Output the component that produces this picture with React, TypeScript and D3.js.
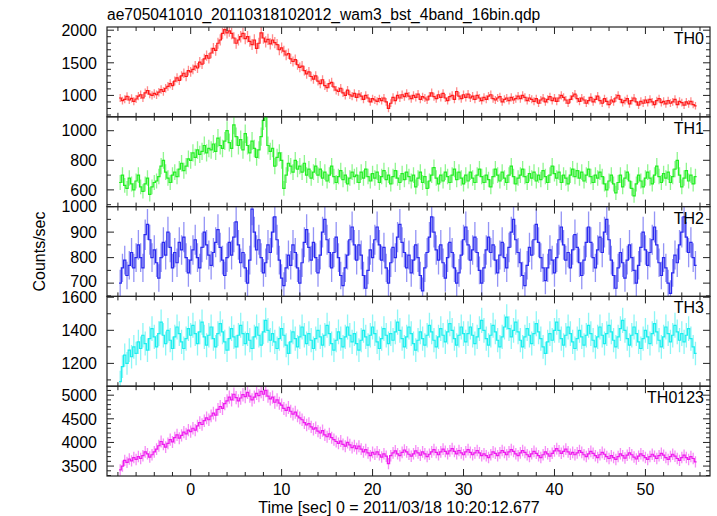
import React from "react";
import * as d3 from "d3";

// time grid: bin centres start at T0, 0.25 s bins (16 x 1/64 s)
const T0 = -7.75;
const BIN = 0.25;

const TH0 = [
  960, 920, 940, 985, 930, 955, 910, 945,
  990, 1010, 960, 1040, 1075, 1020, 1000, 1030,
  1010, 1050, 1090, 1060, 1110, 1140, 1180, 1150,
  1220, 1270, 1230, 1300, 1340, 1290, 1380, 1360,
  1400, 1450, 1420, 1510, 1480, 1560, 1610, 1570,
  1650, 1720, 1690, 1800, 1850, 1950, 2010, 1960,
  1990, 1950, 1880, 1800, 1850, 1900, 1950, 1870,
  1900, 1830, 1780, 1850, 1720, 1800, 1960, 1880,
  1820, 1860, 1790, 1850, 1810, 1780, 1700, 1730,
  1680, 1620, 1640, 1560, 1520, 1550, 1470, 1430,
  1450, 1380, 1330, 1360, 1290, 1250, 1300, 1220,
  1180, 1240, 1150, 1120, 1180, 1200, 1130, 1080,
  1060, 1110, 1040, 1000, 1080, 1010, 990, 1030,
  970, 1020, 990, 940, 1000, 960, 900, 950,
  930, 910, 950, 920, 960, 900, 800, 880,
  970, 920, 1000, 960, 1010, 980, 1030, 990,
  950, 1000, 970, 1020, 940, 980, 960, 930,
  990, 1040, 980, 950, 1010, 970, 1030, 960,
  920, 980, 1000, 940, 1060, 990, 950, 1010,
  970, 1020, 960, 990, 940, 1000, 960, 920,
  970, 940, 990, 1010, 950, 930, 960, 980,
  900, 940, 960, 920, 970, 930, 950, 990,
  950, 1000, 970, 920, 960, 940, 910, 950,
  880, 930, 960, 900, 940, 980, 920, 960,
  910, 960, 1000, 970, 930, 880, 940, 990,
  1020, 950, 910, 960, 930, 880, 920, 970,
  900, 940, 990, 920, 880, 950, 910, 860,
  930, 900, 960, 1000, 940, 890, 920, 950,
  870, 920, 960, 900, 850, 910, 880, 930,
  890, 940, 900, 860, 920, 950, 890, 910,
  870, 920, 880, 900, 940, 860, 910, 890,
  850, 900, 870, 910, 860, 840,
];

const TH1 = [
  650, 700, 630, 610, 680, 640, 600, 660,
  700, 620, 590, 640, 680, 570, 620, 650,
  660, 690, 760, 800, 720, 680, 650, 700,
  720, 690, 740, 780, 730, 760, 810, 800,
  850, 820, 870, 840, 860, 900, 850, 880,
  870, 910, 860, 950, 900, 880, 930, 1000,
  920, 880, 1040, 960, 900, 940, 870, 980,
  900, 850, 930, 880, 820, 870, 960, 1070,
  1090, 900, 860, 880, 760, 820, 850, 800,
  610, 700, 780, 760, 720, 800, 740, 760,
  720, 780, 700, 740, 680, 720, 760, 700,
  740, 680, 720, 660, 700, 760, 690, 650,
  690, 730, 670, 700, 640, 680, 720, 690,
  700, 650, 720, 680, 740, 690, 660, 710,
  680, 720, 650, 690, 730, 670, 700, 640,
  690, 730, 680, 650, 710, 670, 720, 690,
  660, 700, 620, 680, 720, 650, 690, 610,
  660, 700, 750, 680, 640, 700, 660, 720,
  690, 650, 700, 740, 670, 720, 680, 640,
  700, 660, 720, 680, 650, 700, 740, 690,
  650, 700, 670, 620, 690, 740, 700, 660,
  720, 680, 650, 700, 760, 690, 640, 680,
  700, 740, 690, 650, 710, 680, 720, 660,
  700, 670, 730, 690, 650, 700, 760, 710,
  680, 720, 650, 700, 680, 640, 700, 740,
  690, 730, 680, 720, 660, 700, 740, 690,
  650, 700, 680, 720, 690, 640, 600, 660,
  700, 640, 580, 650, 700, 620, 680, 720,
  660, 610, 560, 640, 700, 660, 620, 680,
  720, 680, 640, 700, 760, 690, 650, 710,
  680, 720, 650, 690, 740, 800, 700, 620,
  680, 730, 660, 700, 640, 690,
];

const TH2 = [
  700, 760, 790, 730, 770, 820, 760, 800,
  850, 800, 760, 890, 930, 870, 800, 830,
  780, 720, 800, 860, 810, 900, 840, 760,
  820, 780, 860, 830, 880, 800, 740, 790,
  830, 870, 800, 760, 840, 900, 850, 810,
  770, 820, 860, 910, 840, 790, 730, 800,
  860, 810, 880, 940, 850, 780, 820, 760,
  700, 790, 990, 900, 830, 870, 800, 740,
  780, 850, 820, 900, 960, 870, 790, 720,
  690, 760, 810, 770, 850, 820, 760, 700,
  780, 860, 910, 840, 790, 860, 800, 740,
  810, 900, 950, 870, 820, 760, 820, 880,
  800, 730, 690, 760, 810, 870, 920, 850,
  790, 850, 810, 730, 680, 750, 830, 800,
  870, 920, 850, 790, 840, 760, 700, 780,
  840, 800, 880, 930, 860, 820, 760, 810,
  740, 790, 850, 800, 730, 670, 760, 820,
  880, 960, 900, 830, 790, 850, 780, 720,
  800, 860, 820, 760, 700, 740, 810, 870,
  920, 850, 790, 830, 880, 820, 750, 700,
  760, 830, 880, 820, 850, 790, 740, 810,
  860, 800, 760, 840, 900, 950, 870, 820,
  780, 730, 690, 770, 840, 810, 870, 930,
  860, 800, 760, 710, 760, 830, 790, 740,
  800, 870, 920, 850, 790, 820, 760, 830,
  890, 840, 780, 730, 790, 860, 920, 860,
  800, 760, 830, 880, 820, 900, 950, 870,
  790, 730, 680, 760, 820, 780, 720, 790,
  850, 800, 750, 700, 770, 840, 900, 830,
  770, 820, 870, 920, 850, 780, 730, 800,
  760, 700, 660, 740, 810, 780, 850, 900,
  960, 880, 820, 860, 800, 770,
];

const TH3 = [
  1090, 1180, 1250, 1200, 1280, 1240, 1300, 1260,
  1330, 1290, 1370, 1320, 1280, 1350, 1410, 1360,
  1300, 1380, 1450, 1370, 1320, 1400, 1340, 1290,
  1360, 1420, 1380, 1330, 1290, 1350, 1410, 1370,
  1430, 1380, 1320, 1390, 1450, 1360, 1310, 1370,
  1420, 1350, 1300, 1380, 1440, 1390, 1330, 1280,
  1350, 1410, 1360, 1300, 1370, 1430, 1380, 1320,
  1380, 1340, 1290, 1360, 1420, 1370, 1310, 1390,
  1460, 1400, 1340, 1380, 1330, 1290, 1350, 1410,
  1370, 1310, 1260, 1330, 1390, 1350, 1300, 1360,
  1420, 1370, 1320, 1380, 1340, 1290, 1350, 1400,
  1360, 1310, 1370, 1430, 1380, 1320, 1280, 1340,
  1390, 1350, 1300, 1360, 1420, 1370, 1330, 1380,
  1320, 1280, 1340, 1400, 1360, 1310, 1370, 1420,
  1380, 1330, 1290, 1350, 1410, 1370, 1320, 1380,
  1340, 1390, 1450, 1400, 1350, 1300, 1360, 1420,
  1380, 1320, 1280, 1340, 1390, 1350, 1310, 1370,
  1430, 1390, 1340, 1300, 1360, 1410, 1370, 1330,
  1390, 1440, 1400, 1350, 1310, 1370, 1420, 1380,
  1330, 1380, 1420, 1370, 1320, 1360, 1410, 1460,
  1400, 1350, 1310, 1370, 1430, 1390, 1340, 1300,
  1360, 1420, 1480, 1410, 1360, 1400, 1450, 1390,
  1340, 1300, 1360, 1410, 1370, 1320, 1380, 1440,
  1390, 1350, 1300, 1260, 1330, 1380, 1340, 1400,
  1450, 1400, 1350, 1310, 1370, 1420, 1380, 1330,
  1290, 1350, 1400, 1360, 1310, 1370, 1430, 1380,
  1340, 1300, 1360, 1420, 1370, 1320, 1380, 1430,
  1390, 1340, 1300, 1360, 1410, 1460, 1400, 1350,
  1310, 1370, 1420, 1380, 1330, 1290, 1350, 1400,
  1360, 1320, 1380, 1440, 1390, 1340, 1300, 1360,
  1420, 1380, 1330, 1370, 1430, 1390, 1340, 1380,
  1330, 1370, 1410, 1350, 1300, 1260,
];

const TH0123 = [
  3420, 3500, 3620, 3580, 3650, 3610, 3680, 3640,
  3700, 3660, 3720, 3800, 3760, 3690, 3740, 3800,
  3860, 3930, 4020, 3960, 3900, 3980, 4060, 4010,
  4100, 4160, 4090, 4150, 4220, 4180, 4260, 4230,
  4300, 4260, 4350, 4420, 4380, 4460, 4520, 4480,
  4560, 4620, 4580, 4700, 4760, 4720, 4820, 4880,
  4960, 4900, 5020, 4950, 4880, 4940, 5010, 4970,
  5060, 4980, 4900, 4960, 5040, 4990, 5080, 5020,
  5100, 4980, 4920, 4960, 4850, 4900, 4830, 4790,
  4720, 4680, 4740, 4660, 4600, 4640, 4560, 4520,
  4480, 4420, 4370, 4400, 4330, 4280, 4310, 4240,
  4200, 4250, 4160, 4120, 4180, 4100, 4060, 4020,
  3980, 4030, 3960, 3920, 4000, 3950, 3890, 3930,
  3870, 3920, 3860, 3800, 3850, 3780, 3720, 3790,
  3750, 3800, 3740, 3690, 3760, 3710, 3550, 3720,
  3780, 3820, 3760, 3720, 3790, 3840, 3800, 3750,
  3710, 3760, 3820, 3780, 3730, 3800, 3760, 3700,
  3750, 3800, 3850, 3790, 3740, 3800, 3860, 3810,
  3760, 3820, 3870, 3810, 3760, 3830, 3780, 3740,
  3800, 3850, 3790, 3740, 3780, 3830, 3780, 3720,
  3760, 3720, 3680, 3740, 3800, 3770, 3720, 3780,
  3830, 3790, 3740, 3800, 3850, 3810, 3760, 3720,
  3780, 3830, 3790, 3740, 3700, 3760, 3810, 3770,
  3720, 3680, 3740, 3800, 3760, 3710, 3770, 3820,
  3870, 3820, 3770, 3810, 3860, 3800, 3750, 3790,
  3740, 3780, 3830, 3790, 3740, 3700, 3760, 3810,
  3770, 3720, 3680, 3740, 3790, 3750, 3700, 3660,
  3720, 3680, 3640, 3700, 3760, 3720, 3670, 3730,
  3780, 3740, 3690, 3650, 3710, 3760, 3720, 3680,
  3640, 3700, 3750, 3710, 3660, 3720, 3770, 3730,
  3680, 3640, 3700, 3750, 3710, 3660, 3620, 3680,
  3730, 3680, 3640, 3700, 3660, 3590,
];

const PANEL_NAMES = ["TH0", "TH1", "TH2", "TH3", "TH0123"];
const PANEL_DATA = [TH0, TH1, TH2, TH3, TH0123];
const PANEL_COLORS = ["#ff1a1a", "#22ee22", "#2a2aee", "#1aeeee", "#ee1aee"];
const Y_DOMAINS: [number, number][] = [
  [672, 2049],
  [487, 1094],
  [648, 1000],
  [1062, 1605],
  [3290, 5190],
];
const Y_TICK_LABELS = [
  [1000, 1500, 2000],
  [600, 800, 1000],
  [700, 800, 900, 1000],
  [1200, 1400, 1600],
  [3500, 4000, 4500, 5000],
];
const Y_MINOR_STEP = [100, 100, 50, 100, 100];
const X_TICK_LABELS = [0, 10, 20, 30, 40, 50];
const X_DOMAIN: [number, number] = [-9.2, 57.1];

const TITLE = "ae705041010_20110318102012_wam3_bst_4band_16bin.qdp";
const X_LABEL = "Time [sec] 0 = 2011/03/18 10:20:12.677";
const Y_LABEL = "Counts/sec";

const W = 717;
const H = 516;
const LEFT = 107;
const RIGHT = 710;
const TOP = 27;
const BOTTOM = 476;
const FS = 16;
const FONT = "'Liberation Sans', Arial, Helvetica, sans-serif";

export default function App() {
  const n = PANEL_NAMES.length;
  const ph = (BOTTOM - TOP) / n;
  const x = d3.scaleLinear().domain(X_DOMAIN).range([LEFT, RIGHT]);
  const xMinor = d3.range(-8, 57, 2);

  return (
    <svg
      width={W}
      height={H}
      style={{ position: "absolute", left: 0, top: 0, background: "#fff" }}
      fontFamily={FONT}
    >
      <defs>
        {PANEL_NAMES.map((nm, k) => (
          <clipPath id={`clip${k}`} key={nm}>
            <rect x={LEFT} y={TOP + k * ph} width={RIGHT - LEFT} height={ph} />
          </clipPath>
        ))}
      </defs>
      <text x={LEFT} y={20} fontSize={15.6} fill="#000">
        {TITLE}
      </text>
      {PANEL_NAMES.map((nm, k) => {
        const y0 = TOP + k * ph;
        const y1 = y0 + ph;
        const vals = PANEL_DATA[k];
        const y = d3.scaleLinear().domain(Y_DOMAINS[k]).range([y1, y0]);
        const pts = vals.map((v, i) => ({ t: T0 + i * BIN, v, e: Math.sqrt(v / BIN) }));
        const stepPts = [
          { t: pts[0].t - BIN / 2, v: pts[0].v },
          ...pts,
          { t: pts[pts.length - 1].t + BIN / 2, v: pts[pts.length - 1].v },
        ];
        const line = d3
          .line<{ t: number; v: number }>()
          .x((d) => x(d.t))
          .y((d) => y(d.v))
          .curve(d3.curveStep);
        const [lo, hi] = Y_DOMAINS[k];
        const minors = d3
          .range(Math.ceil(lo / Y_MINOR_STEP[k]) * Y_MINOR_STEP[k], hi + 0.001, Y_MINOR_STEP[k])
          .filter((v) => !Y_TICK_LABELS[k].includes(v));
        const color = PANEL_COLORS[k];
        return (
          <g key={nm}>
            <g clipPath={`url(#clip${k})`}>
              {pts.map((p, i) => (
                <line
                  key={i}
                  x1={x(p.t)}
                  x2={x(p.t)}
                  y1={y(p.v - p.e)}
                  y2={y(p.v + p.e)}
                  stroke={color}
                  strokeOpacity={0.5}
                  strokeWidth={1.3}
                />
              ))}
              <path d={line(stepPts) || ""} fill="none" stroke={color} strokeWidth={1.2} />
            </g>
            {xMinor.map((t) => {
              const major = X_TICK_LABELS.includes(t);
              const len = major ? 7 : 4;
              const xx = x(t);
              return (
                <g key={`xt${t}`} stroke="#222" strokeWidth={1}>
                  <line x1={xx} x2={xx} y1={y1} y2={y1 - len} />
                  <line x1={xx} x2={xx} y1={y0} y2={y0 + len} />
                </g>
              );
            })}
            {minors.map((v) => (
              <g key={`ym${v}`} stroke="#222" strokeWidth={1}>
                <line x1={LEFT} x2={LEFT + 4} y1={y(v)} y2={y(v)} />
                <line x1={RIGHT} x2={RIGHT - 4} y1={y(v)} y2={y(v)} />
              </g>
            ))}
            {Y_TICK_LABELS[k].map((v) => (
              <g key={`yM${v}`}>
                <line x1={LEFT} x2={LEFT + 7} y1={y(v)} y2={y(v)} stroke="#222" />
                <line x1={RIGHT} x2={RIGHT - 7} y1={y(v)} y2={y(v)} stroke="#222" />
                <text
                  x={97}
                  y={y(v) + (v === 700 && k === 2 ? -2 : 0)}
                  dy="0.36em"
                  textAnchor="end"
                  fontSize={FS}
                  fill="#000"
                >
                  {v}
                </text>
              </g>
            ))}
            <rect
              x={LEFT}
              y={y0}
              width={RIGHT - LEFT}
              height={ph}
              fill="none"
              stroke="#222"
              strokeWidth={1.2}
            />
            <text x={RIGHT - 6} y={y0 + 17} textAnchor="end" fontSize={FS} fill="#000">
              {nm}
            </text>
          </g>
        );
      })}
      {X_TICK_LABELS.map((t) => (
        <text key={`xl${t}`} x={x(t)} y={495} textAnchor="middle" fontSize={FS} fill="#000">
          {t}
        </text>
      ))}
      <text x={399} y={513} textAnchor="middle" fontSize={FS} fill="#000">
        {X_LABEL}
      </text>
      <text
        transform={`translate(45, ${(TOP + BOTTOM) / 2}) rotate(-90)`}
        textAnchor="middle"
        fontSize={FS}
        fill="#000"
      >
        {Y_LABEL}
      </text>
    </svg>
  );
}
